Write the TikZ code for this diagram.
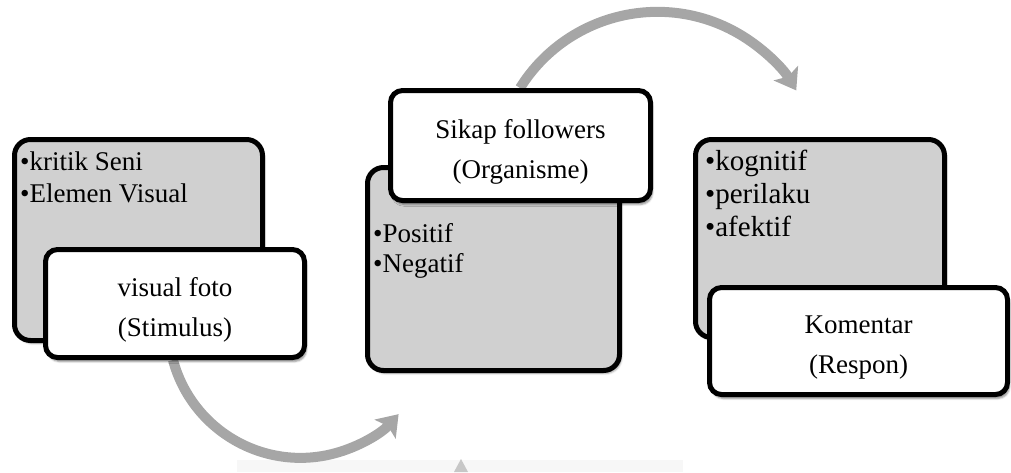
\documentclass[tikz,border=0pt]{standalone}
\usepackage{fontspec}
\setmainfont{Liberation Serif}
\usetikzlibrary{arrows.meta, positioning, shadows.blur}
\definecolor{boxgray}{HTML}{D0D0D0}
\definecolor{arrowgray}{HTML}{A6A6A6}
\newcommand{\toplift}{\rule{0pt}{31pt}}

\begin{document}
\begin{tikzpicture}[
    x=1pt, y=-1pt,
    back/.style={rectangle, draw, line width=5pt, fill=boxgray, rounded corners=16pt, blur shadow={shadow xshift=2pt, shadow yshift=-3pt, shadow opacity=35}},
    front/.style={rectangle, draw, line width=5pt, fill=white, rounded corners=12pt, align=center, font=\fontsize{27}{40}\selectfont, blur shadow={shadow xshift=2pt, shadow yshift=-4pt, shadow opacity=45}},
    list/.style={anchor=north west, inner sep=0pt, align=left},
    curvearrow/.style={line width=10pt, draw=arrowgray, -{Stealth[length=20pt, width=28pt, inset=4pt]}}
]
\useasboundingbox (0,0) rectangle (1011,472);

% faint strip at the bottom edge
\fill[black!3] (237,460) rectangle (683,472);
\fill[black!22] (461,459) -- (454,472) -- (468,472) -- cycle;

% Arrows
\coordinate (stimout) at (173,360);
\coordinate (orgout) at (520,88);
\draw[curvearrow] (stimout) arc[start angle=165, end angle=42, radius=132];
\draw[curvearrow] (orgout) arc[start angle=212, end angle=329, radius=162];

% Stimulus
\node[back, minimum width=248pt, minimum height=201pt] (stimulusbg) at (138.5,240) {};
\node[list, font=\fontsize{27}{32}\selectfont] (stimuluslist) at ([shift={(8,15)}]stimulusbg.north west)
    {\textbullet kritik Seni\\\textbullet Elemen Visual};
\node[front, minimum width=259pt, minimum height=108pt] (stimulus) at (175,303.5) {\toplift visual foto\\(Stimulus)};

% Organisme
\node[back, minimum width=252pt, minimum height=203pt] (organismebg) at (493.5,269) {};
\node[list, font=\fontsize{27}{30}\selectfont] (organismelist) at ([shift={(8,58)}]organismebg.north west)
    {\textbullet Positif\\\textbullet Negatif};
\node[front, minimum width=260pt, minimum height=110pt] (organisme) at (520.5,145.5) {\toplift Sikap followers\\(Organisme)};

% Respon
\node[back, minimum width=249pt, minimum height=198pt] (responbg) at (820,238.5) {};
\node[list, font=\fontsize{29}{33}\selectfont] (responlist) at ([shift={(12,13)}]responbg.north west)
    {\textbullet kognitif\\\textbullet perilaku\\\textbullet afektif};
\node[front, minimum width=298pt, minimum height=107pt] (respon) at (858.5,341) {\toplift Komentar\\(Respon)};

\end{tikzpicture}
\end{document}
